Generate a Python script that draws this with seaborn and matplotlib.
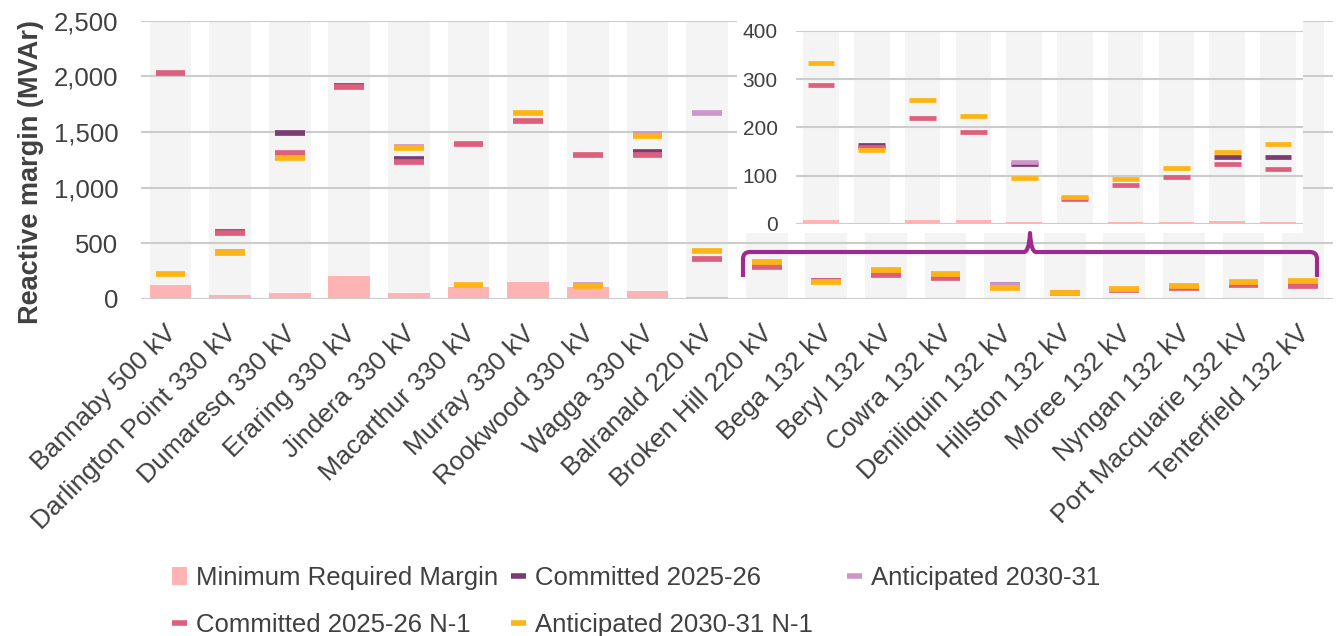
import matplotlib
matplotlib.use("Agg")
import matplotlib.pyplot as plt
from matplotlib.patches import Rectangle, Patch, PathPatch
from matplotlib.lines import Line2D
from matplotlib.path import Path
from matplotlib.transforms import ScaledTranslation
import numpy as np
import pandas as pd
import seaborn as sns

nan = np.nan

categories = ["Bannaby 500 kV", "Darlington Point 330 kV", "Dumaresq 330 kV", "Eraring 330 kV",
              "Jindera 330 kV", "Macarthur 330 kV", "Murray 330 kV", "Rookwood 330 kV",
              "Wagga 330 kV", "Balranald 220 kV", "Broken Hill 220 kV", "Bega 132 kV",
              "Beryl 132 kV", "Cowra 132 kV", "Deniliquin 132 kV", "Hillston 132 kV",
              "Moree 132 kV", "Nyngan 132 kV", "Port Macquarie 132 kV", "Tenterfield 132 kV"]
min_required = [123, 33, 51, 203, 57, 105, 150, 111, 75, 15, 8, 3, 8, 8, 4, 3, 4, 4, 7, 4]
committed = [nan, 600, 1495, 1915, 1262, nan, nan, nan, 1318, nan,
             nan, 163, nan, nan, 124, nan, nan, nan, 139, 139]
anticipated = [nan, 420, nan, nan, 1365, nan, nan, 124, 1480, 1675,
               nan, nan, nan, nan, 129, nan, nan, nan, nan, nan]
committed_n1 = [2033, 592, 1316, 1908, 1232, 1388, 1603, 1298, 1298, 356,
                289, 160, 219, 190, nan, 52, 80, 97, 124, 114]
anticipated_n1 = [227, 410, 1271, nan, 1352, 129, 1675, 114, 1462, 428,
                  333, 153, 258, 223, 95, 56, 93, 117, 150, 166]

inset_start = 10  # categories shown again in the zoomed panel

C_BG = "#F4F4F4"
C_MIN = "#FFB3B3"
C_COMM = "#7B3B73"
C_ANT = "#CC96C8"
C_COMM_N1 = "#DD5F7E"
C_ANT_N1 = "#FDB515"
C_TEXT = "#404040"
C_GRID = "#CCCCCC"
C_BRACKET = "#9E2A8E"

series = [("Committed 2025-26", committed, C_COMM),
          ("Anticipated 2030-31", anticipated, C_ANT),
          ("Committed 2025-26 N-1", committed_n1, C_COMM_N1),
          ("Anticipated 2030-31 N-1", anticipated_n1, C_ANT_N1)]

sns.set_style("white")
plt.rcParams['font.family'] = ['Liberation Sans', 'DejaVu Sans']

W, H = 1337, 636
fig = plt.figure(figsize=(W / 100, H / 100), dpi=100)


def fx(px):
    return px / W


def fy(py):
    return 1 - py / H


def draw_panel(ax, cats, mins, data, ytop, step, lw, half):
    df = pd.DataFrame({"station": cats, "min": mins})
    df["top"] = ytop
    sns.barplot(data=df, x="station", y="top", order=cats, color=C_BG, saturation=1,
                width=0.7, errorbar=None, ax=ax, zorder=0.2, linewidth=0)
    sns.barplot(data=df, x="station", y="min", order=cats, color=C_MIN, saturation=1,
                width=0.7, errorbar=None, ax=ax, zorder=0.3, linewidth=0)
    x = np.arange(len(cats))
    for k, (name, vals, col) in enumerate(data):
        v = np.asarray(vals, dtype=float)
        m = ~np.isnan(v)
        ax.hlines(v[m], x[m] - half, x[m] + half, colors=col, lw=lw, zorder=3 + k)
    ax.set_xlim(-0.5, len(cats) - 0.5)
    ax.set_ylim(0, ytop)
    ax.set_yticks(np.arange(0, ytop + 1, step))
    ax.yaxis.set_major_formatter(matplotlib.ticker.StrMethodFormatter("{x:,.0f}"))
    ax.set_axisbelow("line")
    ax.yaxis.grid(True, color=C_GRID, lw=1.5)
    ax.xaxis.grid(False)
    for s in ax.spines.values():
        s.set_visible(False)
    ax.set_xlabel("")
    ax.set_ylabel("")


# main panel
ax = fig.add_axes([fx(140.7), fy(299), fx(1333) - fx(140.7), (299 - 20.7) / H])
draw_panel(ax, categories, min_required, series, 2500, 500, 4.1, 0.25)
ax.tick_params(axis="y", length=0, pad=16, labelsize=18.5, labelcolor=C_TEXT)
ax.tick_params(axis="x", length=0, pad=16, labelsize=19, labelcolor=C_TEXT)
shift = ScaledTranslation(-0.06, 0, fig.dpi_scale_trans)
for lab in ax.get_xticklabels():
    lab.set_rotation(45)
    lab.set_ha("right")
    lab.set_rotation_mode("anchor")
    lab.set_transform(lab.get_transform() + shift)
ax.set_ylabel("Reactive margin (MVAr)", fontsize=19.5, fontweight="bold", color=C_TEXT)
ax.yaxis.set_label_coords(-0.081, 0.455)

# white backing behind the zoomed panel
fig.add_artist(Rectangle((fx(737), fy(233)), fx(1303) - fx(737), (233 - 5) / H,
                         transform=fig.transFigure, facecolor="white", edgecolor="none", zorder=1))

# zoomed panel for the smaller stations
ax_in = fig.add_axes([fx(795.6), fy(224), fx(1303.4) - fx(795.6), (224 - 31) / H])
ax_in.set_zorder(2)
ax_in.patch.set_alpha(0)
inset_data = [(n, v[inset_start:], c) for n, v, c in series]
draw_panel(ax_in, categories[inset_start:], min_required[inset_start:], inset_data,
           400, 100, 3.4, 0.265)
ax_in.tick_params(axis="y", length=0, pad=13, labelsize=15, labelcolor=C_TEXT)
ax_in.set_xticks([])

# bracket linking the zoomed panel to its stations
pts = [(743, 277), (743, 259), (743, 252), (750, 252), (1024, 252), (1029, 252), (1030, 233),
       (1031, 252), (1036, 252), (1310, 252), (1317, 252), (1317, 259), (1317, 277)]
codes = [Path.MOVETO, Path.LINETO, Path.CURVE3, Path.CURVE3, Path.LINETO, Path.CURVE3, Path.CURVE3,
         Path.CURVE3, Path.CURVE3, Path.LINETO, Path.CURVE3, Path.CURVE3, Path.LINETO]
bracket = Path([(fx(a), fy(b)) for a, b in pts], codes)
fig.add_artist(PathPatch(bracket, transform=fig.transFigure, fill=False, edgecolor=C_BRACKET,
                         lw=3, capstyle="butt", joinstyle="round", zorder=3))

# legend, three columns placed separately
h_min = Patch(facecolor=C_MIN, edgecolor="none")
lines = {n: Line2D([0], [0], color=c, lw=4, solid_capstyle="butt") for n, _, c in series}
leg_kw = dict(loc="upper left", frameon=False, fontsize=18.5, handlelength=0.6, handleheight=0.7,
              handletextpad=0.35, labelspacing=0.9, borderaxespad=0, borderpad=0,
              labelcolor=C_TEXT)
fig.legend([h_min, lines["Committed 2025-26 N-1"]],
           ["Minimum Required Margin", "Committed 2025-26 N-1"],
           bbox_to_anchor=(fx(172), fy(566)), **leg_kw)
fig.legend([lines["Committed 2025-26"], lines["Anticipated 2030-31 N-1"]],
           ["Committed 2025-26", "Anticipated 2030-31 N-1"],
           bbox_to_anchor=(fx(511), fy(566)), **leg_kw)
fig.legend([lines["Anticipated 2030-31"]], ["Anticipated 2030-31"],
           bbox_to_anchor=(fx(847), fy(566)), **leg_kw)

fig.savefig("out.png", dpi=100)
